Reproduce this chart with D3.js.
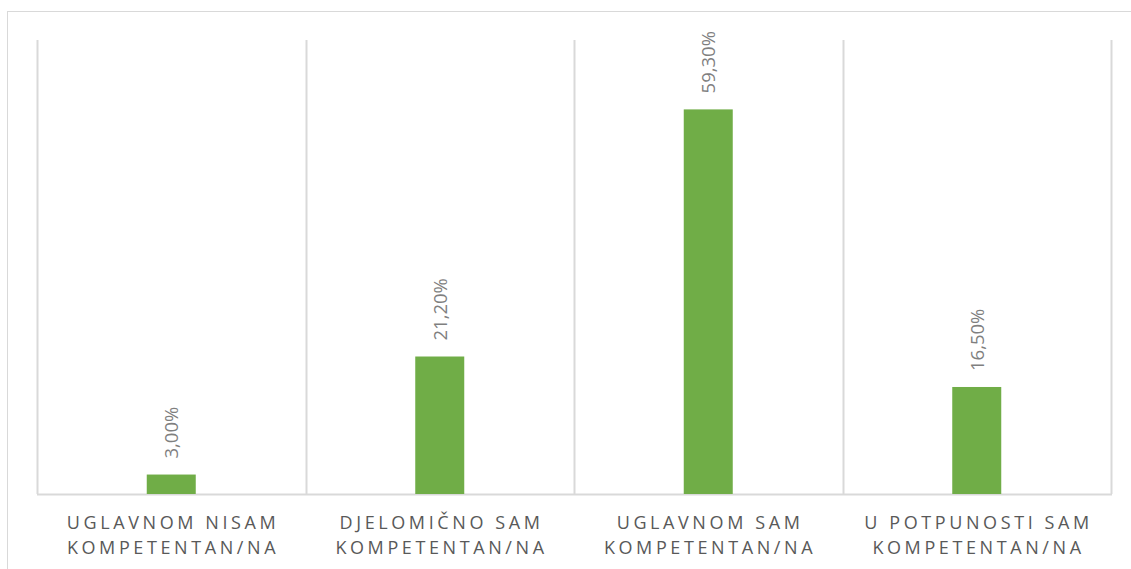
<!DOCTYPE html>
<html>
<head>
<meta charset="utf-8">
<script src="https://cdn.jsdelivr.net/npm/d3@7"></script>
<style>
  body { margin: 0; background: #fff; }
  text { font-family: "Open Sans", "Liberation Sans", sans-serif; }
</style>
</head>
<body>
<script>
var categories = [
  ["UGLAVNOM NISAM", "KOMPETENTAN/NA"],
  ["DJELOMIČNO SAM", "KOMPETENTAN/NA"],
  ["UGLAVNOM SAM", "KOMPETENTAN/NA"],
  ["U POTPUNOSTI SAM", "KOMPETENTAN/NA"]
];
var values = [3.0, 21.2, 59.3, 16.5];
var valueLabels = ["3,00%", "21,20%", "59,30%", "16,50%"];

var w = 1131, h = 569;
var plotLeft = 37, plotRight = 1111, plotTop = 40, base = 494;

var svg = d3.select("body").append("svg")
  .attr("width", w)
  .attr("height", h);

// outer chart frame
svg.append("rect")
  .attr("x", 7.5).attr("y", 11.5)
  .attr("width", 1140).attr("height", 600)
  .attr("fill", "none")
  .attr("stroke", "#d9d9d9")
  .attr("stroke-width", 1);

var x = d3.scaleBand()
  .domain(d3.range(values.length))
  .range([plotLeft, plotRight])
  .paddingInner(0).paddingOuter(0);

var y = d3.scaleLinear().domain([0, 70]).range([base, plotTop]);

// category separators
var seps = d3.range(values.length + 1).map(function(i) { return plotLeft + i * x.bandwidth(); });
svg.selectAll("line.sep")
  .data(seps)
  .enter().append("line")
  .attr("class", "sep")
  .attr("x1", function(d) { return Math.round(d) + 0.5; })
  .attr("x2", function(d) { return Math.round(d) + 0.5; })
  .attr("y1", plotTop).attr("y2", base)
  .attr("stroke", "#d9d9d9")
  .attr("stroke-width", 2);

// baseline
svg.append("line")
  .attr("x1", plotLeft).attr("x2", plotRight + 1)
  .attr("y1", base + 0.5).attr("y2", base + 0.5)
  .attr("stroke", "#d9d9d9")
  .attr("stroke-width", 2);

var bw = 49;
svg.selectAll("rect.bar")
  .data(values)
  .enter().append("rect")
  .attr("class", "bar")
  .attr("x", function(d, i) { return x(i) + x.bandwidth() / 2 - bw / 2; })
  .attr("y", function(d) { return y(d); })
  .attr("width", bw)
  .attr("height", function(d) { return base - y(d); })
  .attr("fill", "#70ad47");

// value labels, rotated
svg.selectAll("text.val")
  .data(values)
  .enter().append("text")
  .attr("class", "val")
  .attr("transform", function(d, i) {
    var cx = x(i) + x.bandwidth() / 2 + 7;
    return "translate(" + cx + "," + (y(d) - 16) + ") rotate(-90)";
  })
  .attr("fill", "#7f7f7f")
  .style("font-size", "18.5px")
  .text(function(d, i) { return valueLabels[i]; });

// category labels
var cat = svg.selectAll("text.cat")
  .data(categories)
  .enter().append("text")
  .attr("class", "cat")
  .attr("text-anchor", "middle")
  .attr("fill", "#595959")
  .style("font-size", "18px")
  .style("letter-spacing", "3.6px");

cat.selectAll("tspan")
  .data(function(d, i) { return d.map(function(s) { return { s: s, i: i }; }); })
  .enter().append("tspan")
  .attr("x", function(d) { return x(d.i) + x.bandwidth() / 2 + 1.8; })
  .attr("y", function(d, j) { return 529 + j * 25; })
  .text(function(d) { return d.s; });
</script>
</body>
</html>
